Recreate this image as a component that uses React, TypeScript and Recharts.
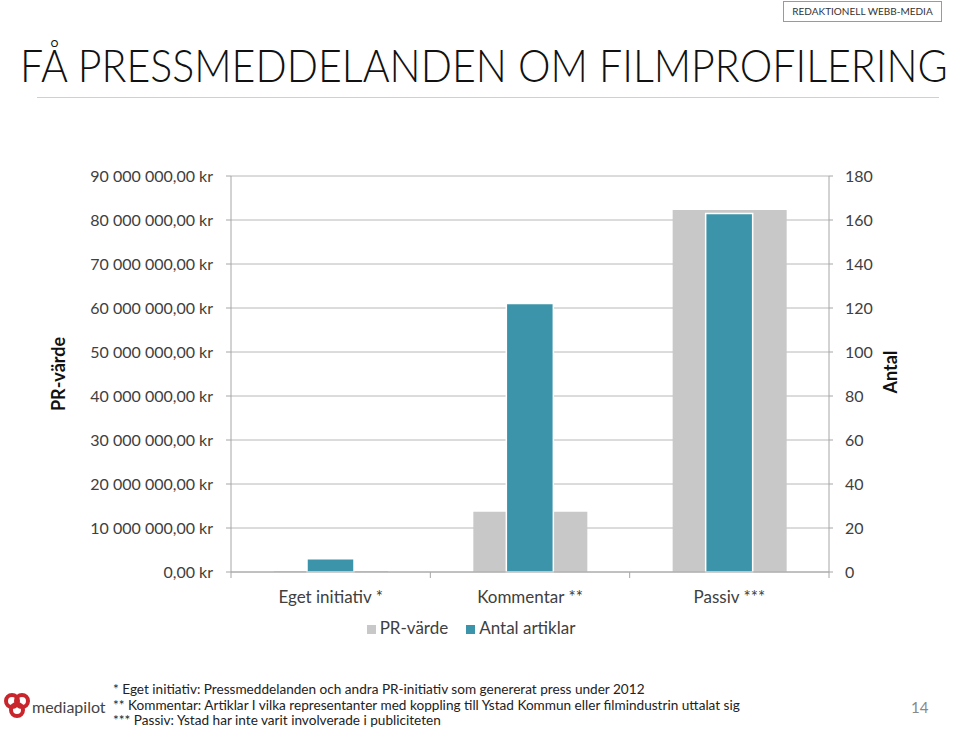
import { useLayoutEffect, useRef, useState } from 'react';
import { BarChart, Bar, XAxis, YAxis, CartesianGrid, Legend } from 'recharts';

// categories and values
const categories = ['Eget initiativ *', 'Kommentar **', 'Passiv ***'];
const prValue = [250000, 13700000, 82300000];
const articleCount = [6, 122, 163];
const leftTicks = [0, 10000000, 20000000, 30000000, 40000000, 50000000, 60000000, 70000000, 80000000, 90000000];
const rightTicks = [0, 20, 40, 60, 80, 100, 120, 140, 160, 180];
const seriesNames = ['PR-värde', 'Antal artiklar'];
const footnotes = [
  '* Eget initiativ: Pressmeddelanden och andra PR-initiativ som genererat press under 2012',
  '** Kommentar: Artiklar I vilka representanter med koppling till Ystad Kommun eller filmindustrin uttalat sig',
  '*** Passiv: Ystad har inte varit involverade i publiciteten',
];

const GREY = '#c8c8c8';
const TEAL = '#3b94aa';
const TEXT = '#404040';
const FONT = 'Lato, "DejaVu Sans", sans-serif';
const TITLE_WIDTH = 928;

const data = categories.map((name, i) => ({ name, pr: prValue[i], antal: articleCount[i] }));

function formatKr(v: number) {
  const s = Math.round(v).toString().replace(/\B(?=(\d{3})+(?!\d))/g, ' ');
  return `${s},00 kr`;
}

// label at band centre, small tick marks at the band edges
function CategoryTick(props: any) {
  const { x, y, payload, width, visibleTicksCount, index } = props;
  const half = Number(width) / Number(visibleTicksCount) / 2;
  const showEdges = Number.isFinite(half);
  return (
    <g>
      {showEdges && <line x1={x - half} y1={y} x2={x - half} y2={y + 6} stroke="#a6a6a6" />}
      {showEdges && index === visibleTicksCount - 1 && (
        <line x1={x + half} y1={y} x2={x + half} y2={y + 6} stroke="#a6a6a6" />
      )}
      <text x={x} y={y + 31} textAnchor="middle" fill={TEXT} fontSize={17} fontFamily={FONT}>
        {payload.value}
      </text>
    </g>
  );
}

function Logo() {
  return (
    <svg width={28} height={26} viewBox="0 0 28 26" style={{ position: 'absolute', left: 3, top: 692 }}>
      <g fill="none" stroke="#c9252c" strokeWidth={4}>
        <circle cx={9} cy={9} r={6} />
        <circle cx={19} cy={9} r={6} />
        <circle cx={14} cy={18} r={6} />
      </g>
    </svg>
  );
}

// squeeze the title horizontally so it spans the slide width
function Title() {
  const ref = useRef<HTMLDivElement>(null);
  const [scale, setScale] = useState(0.9);
  useLayoutEffect(() => {
    if (ref.current) {
      const w = ref.current.scrollWidth;
      if (w > 0) setScale(TITLE_WIDTH / w);
    }
  }, []);
  return (
    <div
      ref={ref}
      style={{
        position: 'absolute', left: 20, top: 35, fontSize: 46, fontWeight: 300, color: '#111',
        whiteSpace: 'nowrap', lineHeight: '60px', display: 'inline-block',
        transform: `scaleX(${scale})`, transformOrigin: 'left top',
      }}
    >
      FÅ PRESSMEDDELANDEN OM FILMPROFILERING
    </div>
  );
}

export default function App() {
  return (
    <div style={{ position: 'absolute', left: 0, top: 0, width: 959, height: 729, background: '#fff', fontFamily: FONT, color: TEXT, overflow: 'hidden' }}>
      <div
        style={{
          position: 'absolute', left: 783, top: 1, width: 159, height: 21, border: '1px solid #9a9a9a',
          boxSizing: 'border-box', fontSize: 10, lineHeight: '19px', textAlign: 'center', color: '#333',
        }}
      >
        REDAKTIONELL WEBB-MEDIA
      </div>
      <Title />
      <div style={{ position: 'absolute', left: 37, top: 97, width: 902, height: 1, background: '#d0d0d0' }} />

      <BarChart width={959} height={729} data={data} margin={{ top: 176, right: 70, bottom: 117, left: 71 }} style={{ position: 'absolute', left: 0, top: 0 }}>
        <CartesianGrid yAxisId="left" xAxisId="grey" vertical={false} stroke="#b8b8b8" />
        <XAxis
          xAxisId="grey"
          dataKey="name"
          interval={0}
          height={40}
          tickSize={0}
          tickMargin={0}
          tickLine={false}
          axisLine={{ stroke: '#a6a6a6' }}
          tick={<CategoryTick />}
        />
        <XAxis xAxisId="teal" dataKey="name" hide />
        <YAxis
          yAxisId="left"
          orientation="left"
          width={160}
          domain={[0, 90000000]}
          ticks={leftTicks}
          interval={0}
          tickFormatter={formatKr}
          tickSize={5}
          tickMargin={13}
          axisLine={{ stroke: '#a6a6a6' }}
          tickLine={{ stroke: '#a6a6a6' }}
          tick={{ fill: TEXT, fontSize: 16, fontFamily: FONT }}
        />
        <YAxis
          yAxisId="right"
          orientation="right"
          width={60}
          domain={[0, 180]}
          ticks={rightTicks}
          interval={0}
          tickSize={4}
          tickMargin={12}
          axisLine={{ stroke: '#a6a6a6' }}
          tickLine={{ stroke: '#a6a6a6' }}
          tick={{ fill: TEXT, fontSize: 16, fontFamily: FONT, textAnchor: 'start' }}
        />
        <Legend
          verticalAlign="middle"
          align="center"
          iconType="square"
          iconSize={9}
          itemSorter={(item: any) => seriesNames.indexOf(item.value)}
          wrapperStyle={{ top: 617, fontSize: 17, fontFamily: FONT }}
          formatter={(value) => <span style={{ color: TEXT, marginRight: 8 }}>{value}</span>}
        />
        <Bar xAxisId="grey" yAxisId="left" dataKey="pr" name={seriesNames[0]} fill={GREY} barSize={114} isAnimationActive={false} />
        <Bar xAxisId="teal" yAxisId="right" dataKey="antal" name={seriesNames[1]} fill={TEAL} stroke="#fff" strokeWidth={1.5} barSize={47} isAnimationActive={false} />
      </BarChart>

      <div style={{ position: 'absolute', left: 58, top: 374, transform: 'translate(-50%, -50%) rotate(-90deg)', fontWeight: 700, fontSize: 18, color: '#111', whiteSpace: 'nowrap' }}>
        PR-värde
      </div>
      <div style={{ position: 'absolute', left: 890, top: 372, transform: 'translate(-50%, -50%) rotate(-90deg)', fontWeight: 700, fontSize: 18, color: '#111', whiteSpace: 'nowrap' }}>
        Antal
      </div>

      <Logo />
      <div style={{ position: 'absolute', left: 32, top: 697, fontSize: 16, color: '#444' }}>mediapilot</div>
      <div style={{ position: 'absolute', left: 113, top: 682, fontSize: 13.6, lineHeight: '15.5px', color: '#222' }}>
        {footnotes.map((t) => (
          <div key={t}>{t}</div>
        ))}
      </div>
      <div style={{ position: 'absolute', left: 911, top: 698, fontSize: 15, color: '#888' }}>14</div>
    </div>
  );
}
